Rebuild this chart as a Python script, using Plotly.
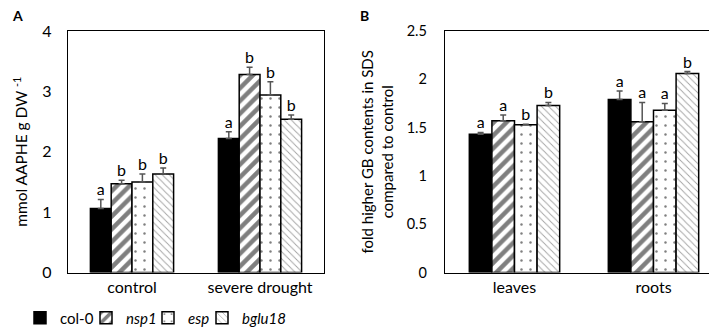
import plotly.graph_objects as go

genotypes = ["col-0", "nsp1", "esp", "bglu18"]
legend_names = ["col-0", "<i>nsp1</i>", "<i>esp</i>", "<i>bglu18</i>"]

cats_a = ["control", "severe drought"]
vals_a = {
    "col-0": [1.06, 2.22],
    "nsp1": [1.47, 3.28],
    "esp": [1.50, 2.94],
    "bglu18": [1.63, 2.54],
}
err_a = {
    "col-0": [0.15, 0.11],
    "nsp1": [0.06, 0.12],
    "esp": [0.13, 0.22],
    "bglu18": [0.10, 0.07],
}
letters_a = {
    "col-0": ["a", "a"],
    "nsp1": ["b", "b"],
    "esp": ["b", "b"],
    "bglu18": ["b", "b"],
}

cats_b = ["leaves", "roots"]
vals_b = {
    "col-0": [1.43, 1.79],
    "nsp1": [1.57, 1.56],
    "esp": [1.53, 1.68],
    "bglu18": [1.73, 2.06],
}
err_b = {
    "col-0": [0.02, 0.09],
    "nsp1": [0.06, 0.20],
    "esp": [0.005, 0.07],
    "bglu18": [0.03, 0.02],
}
letters_b = {
    "col-0": ["a", "a"],
    "nsp1": ["a", "a"],
    "esp": ["b", "a"],
    "bglu18": ["b", "b"],
}

FONT = "Lato, 'Open Sans', sans-serif"

patterns = {
    "col-0": dict(shape="", bgcolor="black"),
    "nsp1": dict(shape="/", fgcolor="black", bgcolor="white", size=9, solidity=0.5),
    "esp": dict(shape=".", fgcolor="black", bgcolor="white", size=9, solidity=0.06),
    "bglu18": dict(shape="\\", fgcolor="#444", bgcolor="white", size=5, solidity=0.18),
}
fills = {"col-0": "black", "nsp1": "white", "esp": "white", "bglu18": "white"}
legend_ids = {"col-0": "legend", "nsp1": "legend2", "esp": "legend3", "bglu18": "legend4"}
legend_x_px = {"col-0": 12, "nsp1": 78, "esp": 140, "bglu18": 194}

fig = go.Figure()

panels = [
    (cats_a, vals_a, err_a, letters_a, "x", "y", "x3"),
    (cats_b, vals_b, err_b, letters_b, "x2", "y2", "x4"),
]

for panel, (cats, vals, errs, lets, xa, ya, xt) in enumerate(panels):
    for g, nm in zip(genotypes, legend_names):
        fig.add_trace(go.Bar(
            x=cats, y=vals[g], name=nm, legendgroup=g, showlegend=(panel == 0),
            legend=legend_ids[g],
            xaxis=xa, yaxis=ya, offsetgroup=g,
            marker=dict(color=fills[g], line=dict(color="black", width=1.5),
                        pattern=patterns[g]),
            error_y=dict(type="data", symmetric=False, array=errs[g],
                         arrayminus=[0] * len(cats), color="#555", thickness=1.5, width=3),
        ))

BARGAP = 0.35
fig.update_layout(barmode="group", bargap=BARGAP, bargroupgap=0.0)

# significance letters above error bars, aligned with grouped bars
group_w = 1 - BARGAP
bar_w = group_w / len(genotypes)
for panel, (cats, vals, errs, lets, xa, ya, xt) in enumerate(panels):
    for k, g in enumerate(genotypes):
        xs = [i - group_w / 2 + bar_w * (k + 0.5) for i in range(len(cats))]
        ys = [v + e for v, e in zip(vals[g], errs[g])]
        fig.add_trace(go.Scatter(
            x=xs, y=ys, text=lets[g], mode="text", textposition="top center",
            textfont=dict(family=FONT, size=16, color="black"),
            xaxis=xt, yaxis=ya, showlegend=False, hoverinfo="skip", cliponaxis=False,
        ))

dom_x_a = [60 / 717, 316 / 717]
dom_x_b = [437 / 717, 715 / 717]
dom_y = [1 - 264.5 / 332, 1 - 23 / 332]

axis_common = dict(showline=True, linecolor="black", linewidth=1.3, mirror=True,
                   showgrid=False, zeroline=False, ticks="", automargin=False)

legend_common = dict(orientation="h", y=1 - 310 / 332, xanchor="left", yanchor="middle",
                     font=dict(size=15), itemwidth=30, bgcolor="rgba(0,0,0,0)")

fig.update_layout(
    width=717, height=332,
    margin=dict(l=0, r=0, t=0, b=0),
    plot_bgcolor="white", paper_bgcolor="white",
    font=dict(family=FONT, color="black"),
    xaxis=dict(domain=dom_x_a, anchor="y", range=[-0.5, 1.5], **axis_common,
               tickfont=dict(size=16), ticklabelstandoff=0),
    xaxis3=dict(domain=dom_x_a, anchor="y", overlaying="x", range=[-0.5, 1.5],
                visible=False),
    yaxis=dict(domain=dom_y, anchor="x", range=[0, 4], dtick=1, **axis_common,
               tickfont=dict(size=16), ticklabelstandoff=12,
               title=dict(text="mmol AAPHE g DW <sup>-1</sup>", font=dict(size=15.5), standoff=10)),
    xaxis2=dict(domain=dom_x_b, anchor="y2", range=[-0.5, 1.5], **axis_common,
                tickfont=dict(size=16), ticklabelstandoff=0),
    xaxis4=dict(domain=dom_x_b, anchor="y2", overlaying="x2", range=[-0.5, 1.5],
                visible=False),
    yaxis2=dict(domain=dom_y, anchor="x2", range=[0, 2.5], dtick=0.5, **axis_common,
                tickfont=dict(size=14.5), ticklabelstandoff=14,
                title=dict(text="fold higher GB contents in SDS<br>compared to control",
                           font=dict(size=15), standoff=9)),
    legend=dict(x=legend_x_px["col-0"] / 717, **legend_common),
    legend2=dict(x=legend_x_px["nsp1"] / 717, **legend_common),
    legend3=dict(x=legend_x_px["esp"] / 717, **legend_common),
    legend4=dict(x=legend_x_px["bglu18"] / 717, **legend_common),
)

fig.add_annotation(text="<b>A</b>", x=2 / 717, y=1 - 8 / 332, xref="paper", yref="paper",
                   xanchor="left", yanchor="middle", showarrow=False, font=dict(size=14))
fig.add_annotation(text="<b>B</b>", x=350 / 717, y=1 - 8 / 332, xref="paper", yref="paper",
                   xanchor="left", yanchor="middle", showarrow=False, font=dict(size=14))

fig.write_html("out.html")
